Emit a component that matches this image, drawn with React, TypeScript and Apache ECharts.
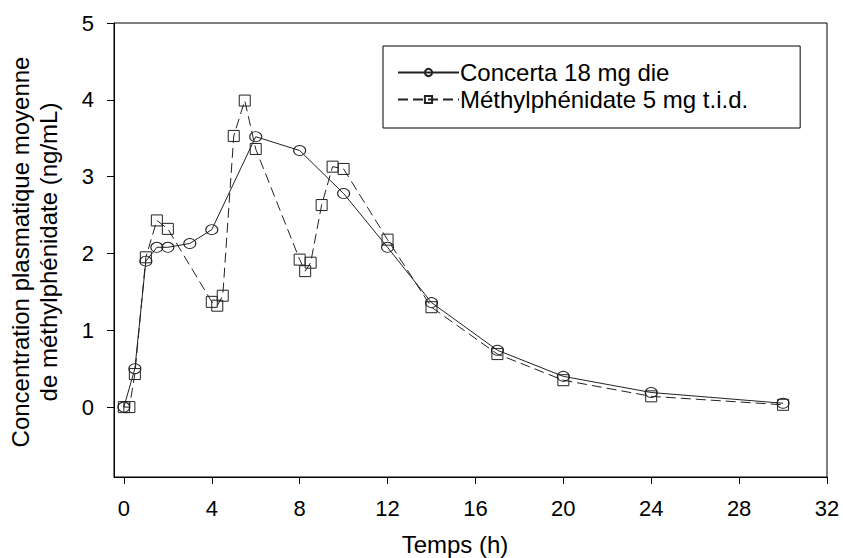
import React, { useEffect, useRef } from "react";
import * as echarts from "echarts";

const concertaTimes = [0, 0.5, 1, 1.5, 2, 3, 4, 6, 8, 10, 12, 14, 17, 20, 24, 30];
const concertaValues = [0, 0.5, 1.9, 2.08, 2.08, 2.13, 2.31, 3.52, 3.34, 2.78, 2.08, 1.36, 0.74, 0.4, 0.19, 0.05];

const methylTimes = [0, 0.25, 0.5, 1, 1.5, 2, 4, 4.25, 4.5, 5, 5.5, 6, 8, 8.25, 8.5, 9, 9.5, 10, 12, 14, 17, 20, 24, 30];
const methylValues = [0, 0, 0.43, 1.95, 2.43, 2.32, 1.37, 1.32, 1.45, 3.53, 3.99, 3.36, 1.92, 1.77, 1.88, 2.63, 3.13, 3.1, 2.18, 1.3, 0.69, 0.35, 0.14, 0.03];

const xTicks = [0, 4, 8, 12, 16, 20, 24, 28, 32];
const yTicks = [0, 1, 2, 3, 4, 5];

const seriesNames = ["Concerta 18 mg die", "Méthylphénidate 5 mg t.i.d."];
const xTitle = "Temps (h)";
const yTitle = "Concentration plasmatique moyenne\nde méthylphénidate (ng/mL)";

const FONT = "'Liberation Sans', Arial, sans-serif";

export default function App() {
  const ref = useRef<HTMLDivElement>(null);
  useEffect(() => {
    if (!ref.current) return;
    const chart = echarts.init(ref.current, undefined, { renderer: "svg" });
    const pairs = (t: number[], v: number[]) => t.map((x, i) => [x, v[i]]);
    chart.setOption({
      animation: false,
      backgroundColor: "#fff",
      grid: {
        left: 114,
        right: 16,
        top: 23,
        bottom: 81,
        show: true,
        borderColor: "#000",
        borderWidth: 1,
        backgroundColor: "transparent",
      },
      xAxis: {
        type: "value",
        min: -0.45,
        max: 32,
        splitLine: { show: false },
        axisLine: { onZero: false, lineStyle: { color: "#000", width: 1 } },
        axisTick: { show: true, length: 7, lineStyle: { color: "#000" }, customValues: xTicks },
        axisLabel: {
          customValues: xTicks,
          color: "#000",
          fontSize: 22,
          fontFamily: FONT,
          margin: 20,
        },
      },
      yAxis: {
        type: "value",
        min: -0.91,
        max: 5,
        splitLine: { show: false },
        axisLine: { onZero: false, lineStyle: { color: "#000", width: 1 } },
        axisTick: { show: true, length: 7, lineStyle: { color: "#000" }, customValues: yTicks },
        axisLabel: {
          customValues: yTicks,
          color: "#000",
          fontSize: 22,
          fontFamily: FONT,
          margin: 20,
        },
      },
      legend: {
        orient: "vertical",
        left: 383,
        top: 46,
        padding: [13, 52, 15, 14],
        itemGap: 0,
        itemWidth: 61,
        itemHeight: 9,
        borderColor: "#000",
        borderWidth: 1,
        backgroundColor: "#fff",
        textStyle: { fontSize: 24, fontFamily: FONT, color: "#000", lineHeight: 27, padding: [0, 0, 0, -4] },
        data: seriesNames,
      },
      graphic: [
        {
          type: "text",
          x: 455,
          y: 544,
          style: {
            text: xTitle,
            font: `24px ${FONT}`,
            fill: "#000",
            textAlign: "center",
            textVerticalAlign: "middle",
          },
        },
        {
          type: "text",
          x: 34,
          y: 252,
          rotation: Math.PI / 2,
          style: {
            text: yTitle,
            font: `24px ${FONT}`,
            fill: "#000",
            textAlign: "center",
            textVerticalAlign: "middle",
            lineHeight: 28,
          },
        },
      ],
      series: [
        {
          name: seriesNames[0],
          type: "line",
          data: pairs(concertaTimes, concertaValues),
          symbol: "circle",
          symbolSize: [12, 10],
          showAllSymbol: true,
          lineStyle: { color: "#222", width: 1 },
          itemStyle: { color: "rgba(255,255,255,0)", borderColor: "#222", borderWidth: 1 },
          z: 3,
        },
        {
          name: seriesNames[1],
          type: "line",
          data: pairs(methylTimes, methylValues),
          symbol: "rect",
          symbolSize: 11,
          showAllSymbol: true,
          lineStyle: { color: "#222", width: 1, type: [10, 5] },
          itemStyle: { color: "rgba(255,255,255,0)", borderColor: "#222", borderWidth: 1 },
          z: 2,
        },
      ],
    });
    return () => chart.dispose();
  }, []);
  return <div ref={ref} style={{ width: 843, height: 558, position: "absolute", left: 0, top: 0 }} />;
}
